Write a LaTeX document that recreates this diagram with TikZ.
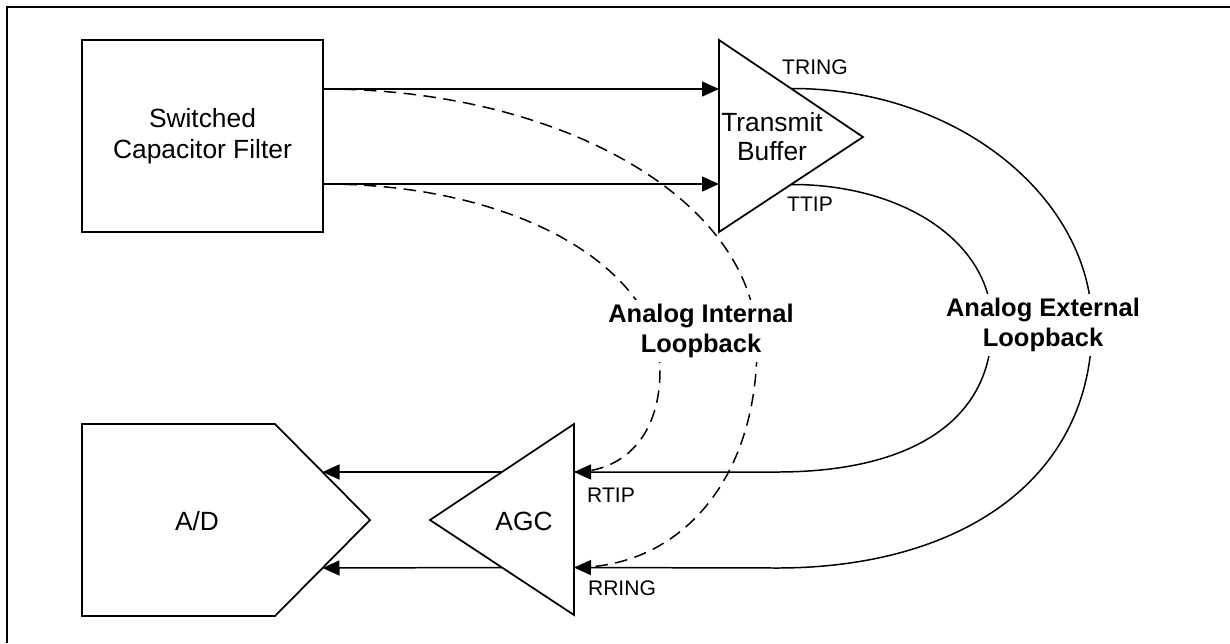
\documentclass[tikz,border=0pt]{standalone}
\usepackage{fontspec}
\setmainfont{Liberation Sans}
\usetikzlibrary{arrows.meta, calc}

\begin{document}
\begin{tikzpicture}[x=0.02cm, y=-0.02cm,
    every node/.style={font=\fontsize{15}{18}\selectfont, align=center},
    block/.style={line width=1pt, line join=miter},
    wire/.style={line width=0.85pt, -{Triangle[length=0.34cm, width=0.3cm]}},
    lbdash/.style={line width=0.85pt, dash pattern=on 0.25cm off 0.15cm},
    pin/.style={font=\fontsize{12}{14}\selectfont},
    looplbl/.style={fill=white, inner sep=2pt, font=\bfseries\fontsize{14.5}{17.5}\selectfont}]
    \useasboundingbox (0,0) rectangle (1230,643);
    \draw[line width=1.6pt] (7,643) -- (7,7) -- (1230,7);

    \node[draw, block, minimum width=4.82cm, minimum height=3.84cm] (scf) at (202.5,136) {Switched\\Capacitor Filter};
    \coordinate (scfa) at ($(scf.east)+(0,-47)$);
    \coordinate (scfb) at ($(scf.east)+(0,48)$);

    \coordinate (tbtop) at (719,40);
    \coordinate (tbbot) at (719,232);
    \coordinate (tbtip) at (863,137);
    \draw[block] (tbtop) -- (tbtip) -- (tbbot) -- cycle;
    \node[font=\fontsize{15}{16.5}\selectfont] (tb) at (772,137) {Transmit\\Buffer};
    \coordinate (tbin1) at (tbtop |- scfa);
    \coordinate (tbin2) at (tbtop |- scfb);
    \coordinate (tring) at ($(tbtop)!0.5!(tbtip)$);
    \coordinate (ttip) at ($(tbbot)!0.5!(tbtip)$);

    \coordinate (agctop) at (574,424);
    \coordinate (agcbot) at (574,615);
    \coordinate (agctip) at (430,520);
    \draw[block] (agctop) -- (agctip) -- (agcbot) -- cycle;
    \node (agc) at (524,521) {AGC};
    \coordinate (agcout1) at ($(agctip)!0.5!(agctop)$);
    \coordinate (agcout2) at ($(agctip)!0.5!(agcbot)$);
    \coordinate (rtip) at (agctop |- agcout1);
    \coordinate (rring) at (agcbot |- agcout2);

    \coordinate (adtl) at (82,424);
    \coordinate (adtr) at (275,424);
    \coordinate (adtip) at (370,520);
    \coordinate (adbr) at (275,616);
    \coordinate (adbl) at (82,616);
    \draw[block] (adtl) -- (adtr) -- (adtip) -- (adbr) -- (adbl) -- cycle;
    \node (adc) at (197,521) {A/D};
    \coordinate (adin1) at ($(adtr)!0.5!(adtip)$);
    \coordinate (adin2) at ($(adtip)!0.5!(adbr)$);

    \draw[wire] (scfa) -- (tbin1);
    \draw[wire] (scfb) -- (tbin2);
    \draw[wire] (agcout1) -- (adin1);
    \draw[wire] (agcout2) -- (adin2);
    \draw[wire] (ttip) .. controls (900,184) and (992,240) .. (992,325) .. controls (992,425) and (905,472) .. (777,472) -- (rtip);
    \draw[wire] (tring) .. controls (960,88) and (1092,200) .. (1092,325) .. controls (1092,480) and (960,568) .. (777,568) -- (rring);
    \draw[lbdash] (scfa) .. controls (560,89) and (757,200) .. (757,345) .. controls (757,480) and (680,568) .. (rring);
    \draw[lbdash] (scfb) .. controls (520,184) and (660,270) .. (660,370) .. controls (660,440) and (620,472) .. (rtip);

    \node[pin] (tringlbl) at (815,67) {TRING};
    \node[pin] (ttiplbl) at (810,204) {TTIP};
    \node[pin] (rtiplbl) at (611,495) {RTIP};
    \node[pin] (rringlbl) at (622,588) {RRING};
    \node[looplbl] (intlbl) at (701,331) {Analog Internal\\Loopback};
    \node[looplbl] (extlbl) at (1043,325) {Analog External\\Loopback};
\end{tikzpicture}
\end{document}
